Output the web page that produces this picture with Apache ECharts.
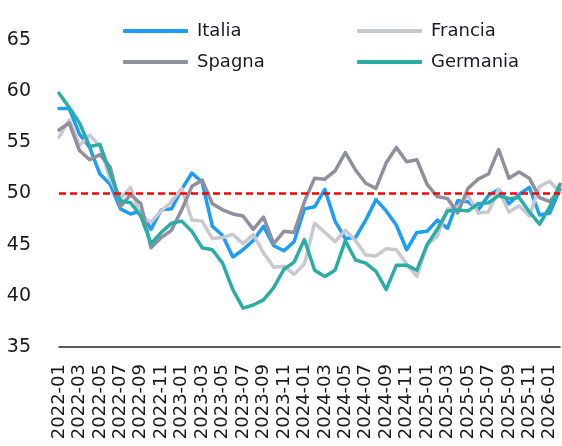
<!DOCTYPE html>
<html>
<head>
<meta charset="utf-8">
<script src="https://cdn.jsdelivr.net/npm/echarts@6/dist/echarts.min.js"></script>
<style>
html,body{margin:0;padding:0;background:#fff;}
#chart{width:562px;height:446px;}
</style>
</head>
<body>
<div id="chart"></div>
<script>
var categories = [
  "2022-01","2022-02","2022-03","2022-04","2022-05","2022-06","2022-07","2022-08","2022-09","2022-10","2022-11","2022-12",
  "2023-01","2023-02","2023-03","2023-04","2023-05","2023-06","2023-07","2023-08","2023-09","2023-10","2023-11","2023-12",
  "2024-01","2024-02","2024-03","2024-04","2024-05","2024-06","2024-07","2024-08","2024-09","2024-10","2024-11","2024-12",
  "2025-01","2025-02","2025-03","2025-04","2025-05","2025-06","2025-07","2025-08","2025-09","2025-10","2025-11","2025-12",
  "2026-01","2026-02"
];
var italia = [
  58.3,58.3,55.8,54.5,51.9,50.9,48.5,48.0,48.3,46.5,48.4,48.5,
  50.4,52.0,51.1,46.8,45.9,43.8,44.5,45.4,46.8,44.9,44.4,45.3,
  48.5,48.7,50.4,47.3,45.6,45.7,47.4,49.4,48.3,46.9,44.5,46.2,
  46.3,47.4,46.6,49.3,49.2,48.4,49.8,50.4,49.0,49.9,50.6,47.9,
  48.1,50.4
];
var francia = [
  55.5,57.2,54.7,55.7,54.6,51.4,49.5,50.6,47.7,47.2,48.3,49.2,
  50.5,47.4,47.3,45.6,45.7,46.0,45.1,46.0,44.2,42.8,42.9,42.1,
  43.1,47.1,46.2,45.3,46.4,45.4,44.0,43.9,44.6,44.5,43.1,41.9,
  45.0,45.8,48.5,48.7,49.8,48.1,48.2,50.4,48.2,48.8,47.8,50.7,
  51.2,50.1
];
var spagna = [
  56.2,56.9,54.2,53.3,53.8,52.6,48.7,49.9,49.0,44.7,45.7,46.4,
  48.4,50.7,51.3,49.0,48.4,48.0,47.8,46.5,47.7,45.1,46.3,46.2,
  49.2,51.5,51.4,52.2,54.0,52.3,51.0,50.5,53.0,54.5,53.1,53.3,
  50.9,49.7,49.5,48.1,50.5,51.4,51.9,54.3,51.5,52.1,51.5,49.6,
  49.2,50.4
];
var germania = [
  59.8,58.4,56.9,54.6,54.8,52.0,49.3,49.1,47.8,45.1,46.2,47.1,
  47.3,46.3,44.7,44.5,43.2,40.6,38.8,39.1,39.6,40.8,42.6,43.3,
  45.5,42.5,41.9,42.5,45.4,43.5,43.2,42.4,40.6,43.0,43.0,42.5,
  45.0,46.5,48.3,48.4,48.3,49.0,49.1,49.8,49.5,49.6,48.2,47.0,
  48.7,50.9
];
var seriesNames = ["Italia","Francia","Spagna","Germania"];
var threshold = 50;

var colors = {Italia:"#1B9DF8", Francia:"#C8C8D0", Spagna:"#908F9D", Germania:"#29ADA6"};
var FONT = "DejaVu Sans";

function legendFor(name, left, top){
  return {
    show:true, data:[name], left:left, top:top, orient:'horizontal',
    icon:'roundRect', itemWidth:65, itemHeight:4, itemGap:0,
    padding:0,
    textStyle:{fontFamily:FONT, fontSize:18, color:'#1a1a24', padding:[0,0,0,4]},
    selectedMode:false
  };
}

function mk(name, data){
  return {
    name:name, type:'line', data:data, symbol:'none', smooth:false,
    lineStyle:{width:3.5, color:colors[name], cap:'round', join:'round'},
    itemStyle:{color:colors[name]},
    emphasis:{disabled:true}
  };
}

var series = [mk("Italia", italia), mk("Francia", francia), mk("Spagna", spagna), mk("Germania", germania)];
series[0].markLine = {
  silent:true, symbol:'none', label:{show:false},
  lineStyle:{color:'#FF0000', type:[7,4], width:2.5},
  data:[{yAxis:threshold}]
};

var chart = echarts.init(document.getElementById('chart'), null, {renderer:'canvas'});
chart.setOption({
  animation:false,
  backgroundColor:'#ffffff',
  legend:[
    legendFor("Italia", 123, 22),
    legendFor("Francia", 357, 22),
    legendFor("Spagna", 123, 53),
    legendFor("Germania", 357, 53)
  ],
  grid:{left:59, right:2, top:40, bottom:99, containLabel:false, outerBoundsMode:'none'},
  xAxis:{
    type:'category', data:categories, boundaryGap:false,
    axisLine:{show:true, onZero:false, lineStyle:{color:'#222', width:1.5}},
    axisTick:{show:false},
    axisLabel:{interval:1, rotate:90, margin:17, fontFamily:FONT, fontSize:18, color:'#1a1a1a'},
    splitLine:{show:false}
  },
  yAxis:{
    type:'value', min:35, max:65, interval:5,
    axisLine:{show:false}, axisTick:{show:false}, splitLine:{show:false},
    axisLabel:{margin:28, fontFamily:FONT, fontSize:19, color:'#1a1a1a'}
  },
  series:series
});
</script>
</body>
</html>
